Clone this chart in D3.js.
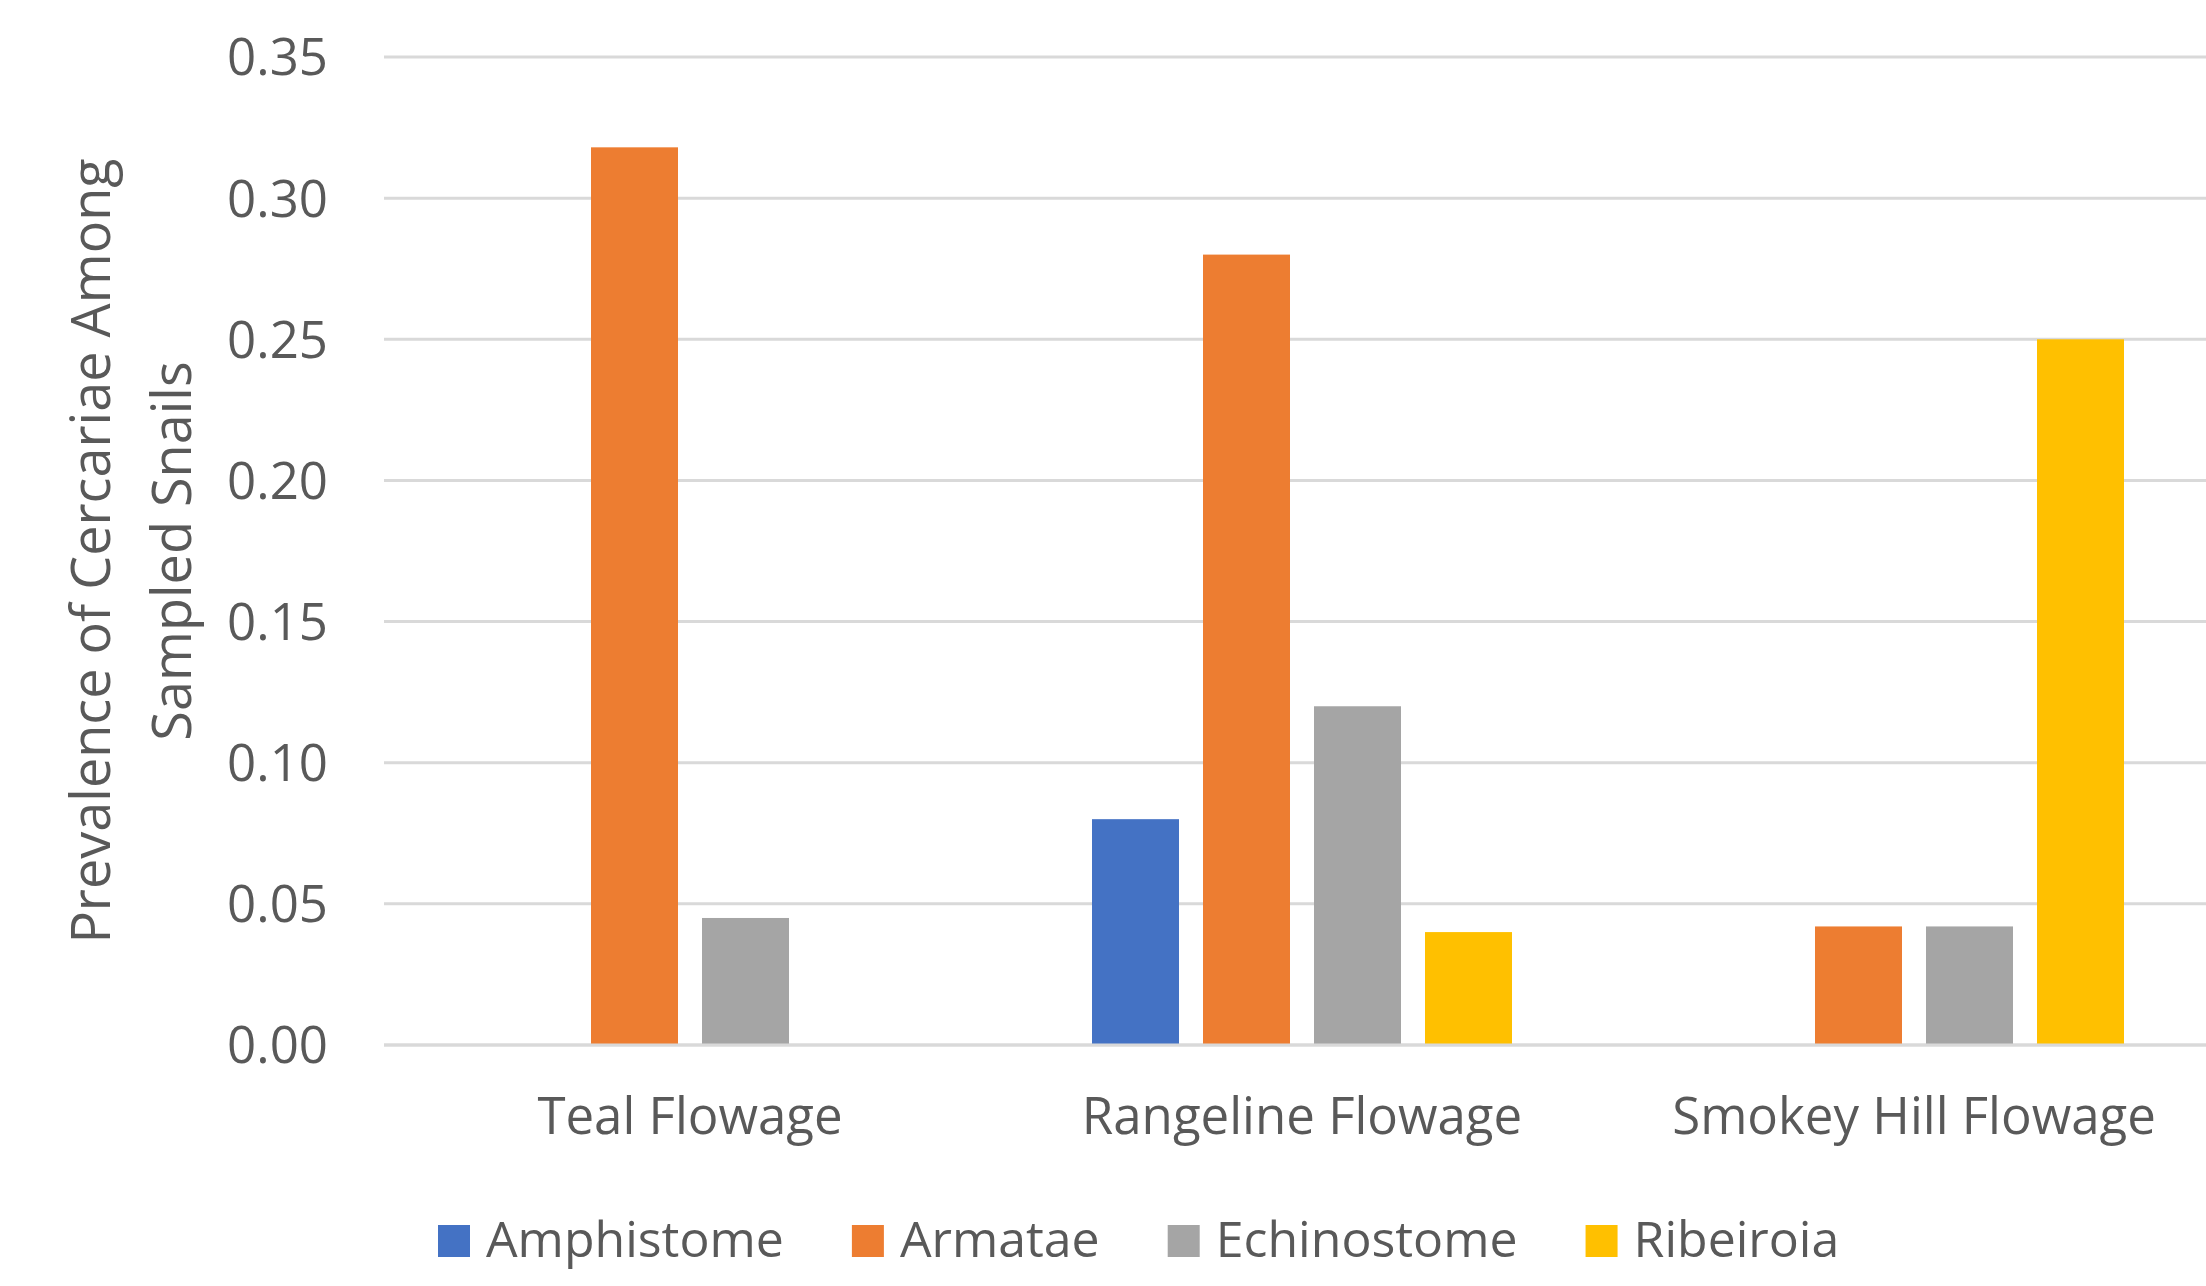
<!DOCTYPE html>
<html>
<head>
<meta charset="utf-8">
<script src="https://cdn.jsdelivr.net/npm/d3@7"></script>
<style>
  html, body { margin: 0; padding: 0; background: #ffffff; }
  svg { display: block; }
  text { font-family: "Open Sans", Lato, sans-serif; fill: #595959; }
</style>
</head>
<body>
<svg id="chart" width="2206" height="1286"></svg>
<script>
// Sampling sites and parasite groups
const sites = ["Teal Flowage", "Rangeline Flowage", "Smokey Hill Flowage"];
const parasites = ["Amphistome", "Armatae", "Echinostome", "Ribeiroia"];

// Prevalence per site, one array per parasite group (0 = none found)
const amphistome  = [0,     0.08, 0];
const armatae     = [0.318, 0.28, 0.042];
const echinostome = [0.045, 0.12, 0.042];
const ribeiroia   = [0,     0.04, 0.25];

const yTicks = [0, 0.05, 0.10, 0.15, 0.20, 0.25, 0.30, 0.35];
const colors = ["#4472C4", "#ED7D31", "#A5A5A5", "#FFC000"];

const seriesValues = [amphistome, armatae, echinostome, ribeiroia];
const rows = sites.map((s, i) => ({
  site: s,
  values: parasites.map((p, j) => ({ key: p, value: seriesValues[j][i] }))
}));

const FONT = "'Open Sans', Lato, sans-serif";
const FS = 51;
const svg = d3.select("#chart");
const plot = { left: 384, right: 2220, top: 57, bottom: 1045 };

const y = d3.scaleLinear().domain([0, 0.35]).range([plot.bottom, plot.top]);
const x0 = d3.scaleBand().domain(sites).range([plot.left, plot.right]).padding(0);
const groupW = 420;
const x1 = d3.scaleBand().domain(parasites)
  .range([(x0.bandwidth() - groupW) / 2, (x0.bandwidth() + groupW) / 2])
  .paddingInner(24 / 111).paddingOuter(0);
const color = d3.scaleOrdinal().domain(parasites).range(colors);

// Horizontal gridlines
svg.append("g").attr("class", "grid")
  .selectAll("line").data(yTicks).join("line")
  .attr("x1", plot.left).attr("x2", 2206)
  .attr("y1", d => y(d)).attr("y2", d => y(d))
  .attr("stroke", "#D9D9D9").attr("stroke-width", 3);

// Y axis tick labels
const yAxis = d3.axisLeft(y).tickValues(yTicks).tickFormat(d3.format(".2f")).tickSize(0).tickPadding(0);
const yg = svg.append("g").attr("transform", `translate(328,0)`).call(yAxis);
yg.select(".domain").remove();
yg.selectAll("text")
  .attr("font-family", FONT)
  .attr("font-size", FS).attr("fill", "#595959").attr("dy", "0.35em");

// Bars
const groups = svg.append("g").selectAll("g").data(rows).join("g")
  .attr("transform", d => `translate(${x0(d.site)},0)`);
groups.selectAll("rect").data(d => d.values.filter(v => v.value > 0)).join("rect")
  .attr("x", d => x1(d.key))
  .attr("width", x1.bandwidth())
  .attr("y", d => y(d.value))
  .attr("height", d => y(0) - y(d.value))
  .attr("fill", d => color(d.key));

// Baseline gridline on top of bars
svg.append("line")
  .attr("x1", plot.left).attr("x2", 2206)
  .attr("y1", y(0)).attr("y2", y(0))
  .attr("stroke", "#D9D9D9").attr("stroke-width", 3);

// Category labels
const xAxis = d3.axisBottom(x0).tickSize(0).tickPadding(0);
const xg = svg.append("g").attr("transform", `translate(0,1134)`).call(xAxis);
xg.select(".domain").remove();
xg.selectAll("text")
  .attr("font-family", FONT)
  .attr("font-size", FS).attr("fill", "#595959").attr("dy", 0)
  .attr("text-anchor", "middle");

// Y axis title (two lines, rotated)
const title = svg.append("text")
  .attr("transform", `translate(0,551) rotate(-90)`)
  .attr("text-anchor", "middle")
  .attr("font-size", 54);
title.append("tspan").attr("x", 0).attr("y", 110).text("Prevalence of Cercariae Among");
title.append("tspan").attr("x", 0).attr("y", 191).text("Sampled Snails");

// Legend
const legend = svg.append("g").attr("class", "legend");
let lx = 438;
parasites.forEach(p => {
  const item = legend.append("g").attr("transform", `translate(${lx},0)`);
  item.append("rect").attr("x", 0).attr("y", 1225).attr("width", 32).attr("height", 32)
    .attr("fill", color(p));
  const t = item.append("text").attr("x", 48).attr("y", 1257).attr("font-size", 50).text(p);
  lx += 48 + t.node().getComputedTextLength() + 68;
});
</script>
</body>
</html>
